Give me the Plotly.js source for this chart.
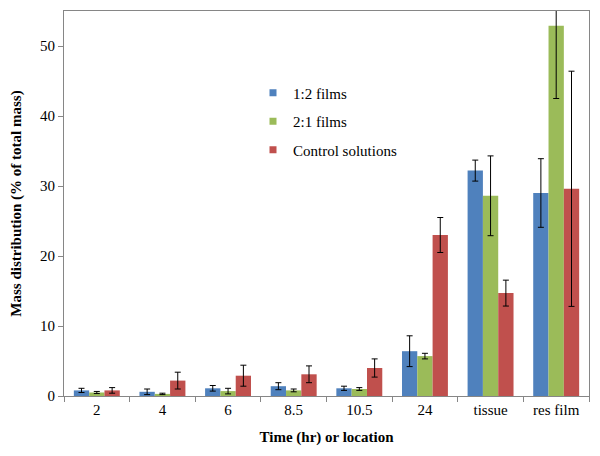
<!DOCTYPE html>
<html><head><meta charset="utf-8">
<script src="https://cdn.plot.ly/plotly-3.0.1.min.js"></script>
<style>body{margin:0;background:#fff}#c{width:600px;height:456px}</style>
</head><body><div id="c"></div>
<script>
const categories = ["2","4","6","8.5","10.5","24","tissue","res film"];
const films12 = [0.8,0.6,1.1,1.4,1.1,6.4,32.2,29.0];
const films12Err = [0.3,0.4,0.4,0.5,0.3,2.2,1.5,4.9];
const films21 = [0.5,0.3,0.7,0.8,1.0,5.7,28.6,52.9];
const films21Err = [0.15,0.1,0.4,0.2,0.2,0.4,5.7,10.4];
const control = [0.8,2.2,2.9,3.1,4.0,23.0,14.7,29.6];
const controlErr = [0.4,1.2,1.5,1.2,1.3,2.5,1.85,16.8];
const names = ["1:2 films","2:1 films","Control solutions"];
const colors = ["#4F81BD","#9BBB59","#C0504D"];
const ys = [films12, films21, control];
const errs = [films12Err, films21Err, controlErr];
const traces = ys.map((y,i)=>({
  type:"bar", x:categories, y:y, name:names[i], showlegend:false,
  marker:{color:colors[i]},
  error_y:{type:"data", array:errs[i], visible:true, color:"#000", thickness:1, width:3}
}));
names.forEach((n,i)=>traces.push({
  type:"scatter", mode:"markers", x:[categories[0]], y:[null], name:n, legendgroup:"g"+i,
  marker:{symbol:"square", size:7, color:colors[i]}, hoverinfo:"skip"
}));
const F = "Times New Roman, Liberation Serif, DejaVu Serif, serif";
const layout = {
  width:600, height:456,
  margin:{l:64,r:11,t:11,b:60},
  paper_bgcolor:"#fff", plot_bgcolor:"#fff",
  font:{family:F, size:15, color:"#000"},
  barmode:"group", bargap:0.3, bargroupgap:0,
  showlegend:true,
  legend:{x:0.36, y:0.83, xanchor:"left", yanchor:"top", bgcolor:"rgba(0,0,0,0)",
    font:{family:F, size:15}, traceorder:"grouped", tracegroupgap:6, itemwidth:30},
  xaxis:{type:"category", showline:true, linecolor:"#868686", mirror:true,
    ticks:"outside", tickson:"boundaries", ticklen:5, tickcolor:"#868686",
    tickfont:{family:F, size:15},
    title:{text:"<b>Time (hr) or location</b>", font:{family:F, size:15}, standoff:14}},
  yaxis:{range:[0,55], dtick:10, showline:true, linecolor:"#868686", mirror:true,
    ticks:"outside", ticklen:5, tickcolor:"#868686", showgrid:false, zeroline:false,
    tickfont:{family:F, size:15},
    title:{text:"<b>Mass distribution (% of total mass)</b>", font:{family:F, size:15}, standoff:14}}
};
Plotly.newPlot("c", traces, layout, {displayModeBar:false});
</script></body></html>
